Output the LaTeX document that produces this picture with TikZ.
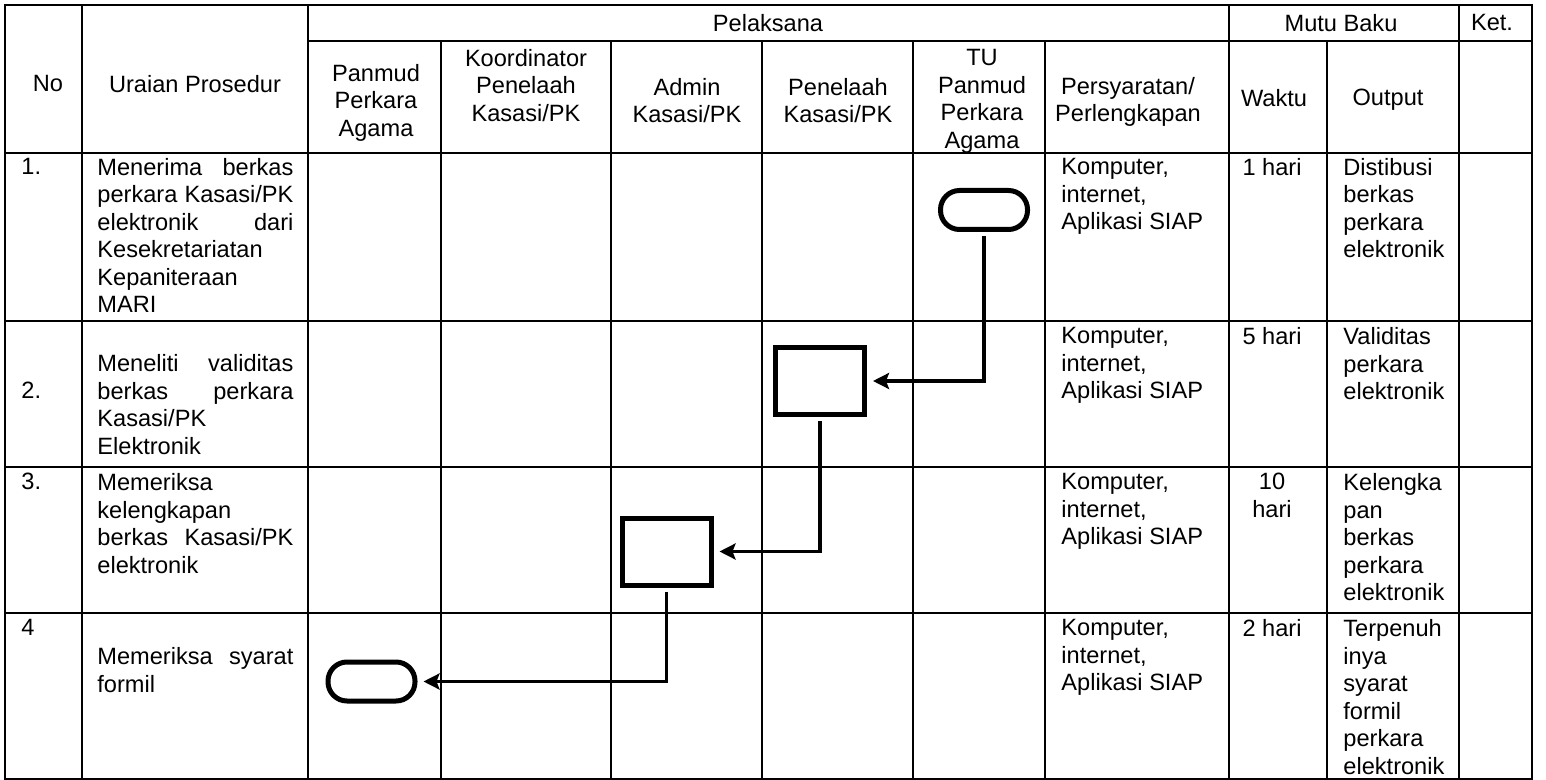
\documentclass[tikz,border=0pt]{standalone}
\usepackage{fontspec}
\setmainfont{Liberation Sans}
\usetikzlibrary{arrows.meta}
% a justified line of two words
\newcommand{\spread}[2]{#1\hspace{0pt plus 1filll}#2}

\begin{document}
\begin{tikzpicture}[x=0.5pt, y=-0.5pt,
  every node/.style={font=\fontsize{11.8}{13.75}\selectfont, inner sep=0pt},
  grid/.style={line width=1pt},
  head/.style={anchor=north, align=center},
  cell/.style={anchor=north west, align=left},
  desc/.style={anchor=north west, align=left, text width=98pt},
  proc/.style={draw, line width=2.5pt, minimum width=44.5pt, minimum height=33.5pt},
  term/.style={draw, line width=2.5pt, rounded corners=9.5pt,
               minimum width=43.5pt, minimum height=19.5pt},
  arr/.style={-{Stealth[length=8pt,width=8pt,inset=1.5pt]}, line width=1.6pt,
              shorten <=2pt, shorten >=3pt}
]
\useasboundingbox (0,0) rectangle (1546,780);

% table lines
\draw[grid] (5,5) rectangle (1532,779);
\draw[grid] (82,5) -- (82,779) (308,5) -- (308,779)
            (1229,5) -- (1229,779) (1459,5) -- (1459,779);
\foreach \x in {441,611,762,913,1045,1327}
  \draw[grid] (\x,41) -- (\x,779);
\draw[grid] (308,41) -- (1532,41);
\foreach \y in {153,321,467,613}
  \draw[grid] (5,\y) -- (1532,\y);

% header
\node[head] (hPel) at (768,14) {Pelaksana};
\node[head] (hMutu) at (1341,14) {Mutu Baku};
\node[head] (hKet) at (1492,14) {Ket.};
\node[head] (hNo) at (48,75) {No};
\node[head] (hUraian) at (195,75) {Uraian Prosedur};
\node[head] (hPanmud) at (376,64) {Panmud\\Perkara\\Agama};
\node[head] (hKoord) at (526,49) {Koordinator\\Penelaah\\Kasasi/PK};
\node[head] (hAdmin) at (687,78) {Admin\\Kasasi/PK};
\node[head] (hPenelaah) at (838,78) {Penelaah\\Kasasi/PK};
\node[head] (hTU) at (982,49) {TU\\Panmud\\Perkara\\Agama};
\node[head] (hSyarat) at (1128,77) {Persyaratan/\\Perlengkapan};
\node[head] (hWaktu) at (1274,89) {Waktu};
\node[head] (hOutput) at (1388,89) {Output};

% row 1
\node[cell] (no1) at (21,158) {1.};
\node[desc] (ur1) at (97,158)
  {\spread{Menerima}{berkas}\\\spread{perkara}{Kasasi/PK}\\\spread{elektronik}{dari}\\
   Kesekretariatan\\Kepaniteraan\\MARI};
\node[cell] (req1) at (1061,158) {Komputer,\\internet,\\Aplikasi SIAP};
\node[head] (time1) at (1272,158) {1 hari};
\node[cell] (out1) at (1343,158) {Distibusi\\berkas\\perkara\\elektronik};

% row 2
\node[cell] (no2) at (21,382) {2.};
\node[desc] (ur2) at (97,354)
  {\spread{Meneliti}{validitas}\\\spread{berkas}{perkara}\\Kasasi/PK\\Elektronik};
\node[cell] (req2) at (1061,327) {Komputer,\\internet,\\Aplikasi SIAP};
\node[head] (time2) at (1272,327) {5 hari};
\node[cell] (out2) at (1343,327) {Validitas\\perkara\\elektronik};

% row 3
\node[cell] (no3) at (21,473) {3.};
\node[desc] (ur3) at (97,473)
  {Memeriksa\\kelengkapan\\\spread{berkas}{Kasasi/PK}\\elektronik};
\node[cell] (req3) at (1061,473) {Komputer,\\internet,\\Aplikasi SIAP};
\node[head] (time3) at (1272,473) {10\\hari};
\node[cell] (out3) at (1343,473) {Kelengka\\pan\\berkas\\perkara\\elektronik};

% row 4
\node[cell] (no4) at (21,619) {4};
\node[desc] (ur4) at (97,647) {\spread{Memeriksa}{syarat}\\formil};
\node[cell] (req4) at (1061,619) {Komputer,\\internet,\\Aplikasi SIAP};
\node[head] (time4) at (1272,619) {2 hari};
\node[cell] (out4) at (1343,619)
  {Terpenuh\\inya\\syarat\\formil\\perkara\\elektronik};

% flow
\node[term] (start) at (984,210) {};
\node[proc] (teliti) at (820,381) {};
\node[proc] (periksa) at (666.5,551.5) {};
\node[term] (selesai) at (371.5,681.5) {};

\draw[arr] (start) |- (teliti);
\draw[arr] (teliti) |- (periksa);
\draw[arr] (periksa) |- (selesai);
\end{tikzpicture}
\end{document}
